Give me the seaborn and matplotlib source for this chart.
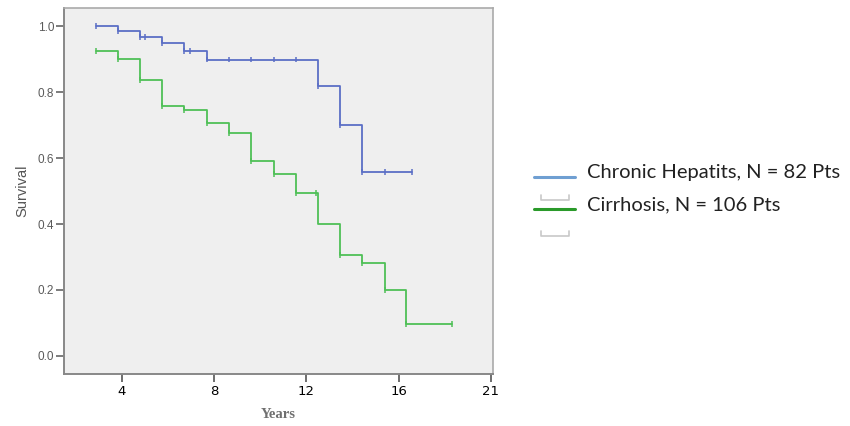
import numpy as np
import pandas as pd
import seaborn as sns
import matplotlib.pyplot as plt
from matplotlib.lines import Line2D

# Kaplan-Meier steps (time in years, survival after the step)
blue_t = [2.87, 3.84, 4.78, 5.75, 6.71, 7.68, 12.5, 13.45, 14.42, 16.6]
blue_s = [1.0, 0.985, 0.967, 0.949, 0.925, 0.899, 0.818, 0.70, 0.558, 0.558]
blue_cens = [2.87, 3.84, 4.78, 5.03, 5.75, 6.71, 6.96, 7.68, 8.65, 9.61,
             10.58, 11.55, 12.5, 13.45, 14.42, 15.39, 16.6]

green_t = [2.87, 3.84, 4.78, 5.75, 6.71, 7.68, 8.65, 9.61, 10.58, 11.55,
           12.5, 13.45, 14.42, 15.39, 16.33, 18.3]
green_s = [0.924, 0.901, 0.836, 0.759, 0.747, 0.705, 0.675, 0.591, 0.553,
           0.493, 0.399, 0.306, 0.281, 0.2, 0.097, 0.097]
green_cens = [2.87, 3.84, 4.78, 5.75, 6.71, 7.68, 8.65, 9.61, 10.58, 11.55,
              12.4, 13.45, 14.42, 15.39, 16.33, 18.3]

x_ticks = [4, 8, 12, 16, 20]
x_labels = ['4', '8', '12', '16', '21']
y_ticks = [0.0, 0.2, 0.4, 0.6, 0.8, 1.0]

labels = ['Chronic Hepatits, N = 82 Pts', 'Cirrhosis, N = 106 Pts']
line_colors = ['#5b6fc6', '#4fc057']
legend_colors = ['#6f9fd2', '#2a9a2a']


def step_value(t, s, x):
    i = np.searchsorted(t, x, side='right') - 1
    return s[max(i, 0)]


curves = pd.concat([
    pd.DataFrame({'t': blue_t, 's': blue_s, 'grp': labels[0]}),
    pd.DataFrame({'t': green_t, 's': green_s, 'grp': labels[1]}),
])
marks = pd.concat([
    pd.DataFrame({'t': blue_cens, 's': [step_value(blue_t, blue_s, x) for x in blue_cens], 'grp': labels[0]}),
    pd.DataFrame({'t': green_cens, 's': [step_value(green_t, green_s, x) for x in green_cens], 'grp': labels[1]}),
])

sns.set_style('white')
fig = plt.figure(figsize=(8.5, 4.26), dpi=100)
ax = fig.add_axes([0.0753, 0.122, 0.505, 0.859])
ax.set_facecolor('#efefef')

pal = dict(zip(labels, line_colors))
sns.lineplot(data=curves, x='t', y='s', hue='grp', palette=pal, drawstyle='steps-post',
             linewidth=1.3, legend=False, ax=ax, estimator=None, sort=False)
sns.scatterplot(data=marks, x='t', y='s', hue='grp', palette=pal, marker='|', s=18,
                linewidth=1.1, legend=False, ax=ax, zorder=3)

ax.set_xlim(1.5, 20.1)
ax.set_ylim(-0.055, 1.055)
ax.set_xticks(x_ticks)
ax.set_xticklabels(x_labels, fontsize=9.5, color='black', family='DejaVu Sans')
ax.set_yticks(y_ticks)
ax.set_yticklabels([f'{v:.1f}' for v in y_ticks], fontsize=8.5, color='#5a5a5a',
                   family='Liberation Sans')
ax.tick_params(axis='y', left=True, length=6, width=1.2, color='#666666', pad=1)
ax.tick_params(axis='x', bottom=True, length=6, width=1.2, color='#555555', pad=2)
for side in ['top', 'right']:
    ax.spines[side].set_color('#aaaaaa')
    ax.spines[side].set_linewidth(1.2)
for side in ['left', 'bottom']:
    ax.spines[side].set_color('#888888')
    ax.spines[side].set_linewidth(1.4)

ax.set_xlabel('Years', fontsize=10.5, family='Liberation Serif', fontweight='bold',
              color='#707070', labelpad=7)
ax.set_ylabel('Survival', fontsize=10.5, family='Liberation Sans', color='#555555',
              labelpad=6)

# legend drawn beside the plot, as in the original slide
leg_y = [0.584, 0.509]
text_y = [0.596, 0.519]
for y, ty, c, lab in zip(leg_y, text_y, legend_colors, labels):
    fig.add_artist(Line2D([0.628, 0.677], [y, y], color=c, linewidth=2.2))
    fig.text(0.691, ty, lab, fontsize=14.5, family='Lato', color='#222222', va='center')
for y in [0.531, 0.445]:
    fig.add_artist(Line2D([0.637, 0.637, 0.669, 0.669], [y + 0.012, y, y, y + 0.012],
                          color='#c8c8c8', linewidth=1.2))

fig.savefig('out.png', dpi=100)
